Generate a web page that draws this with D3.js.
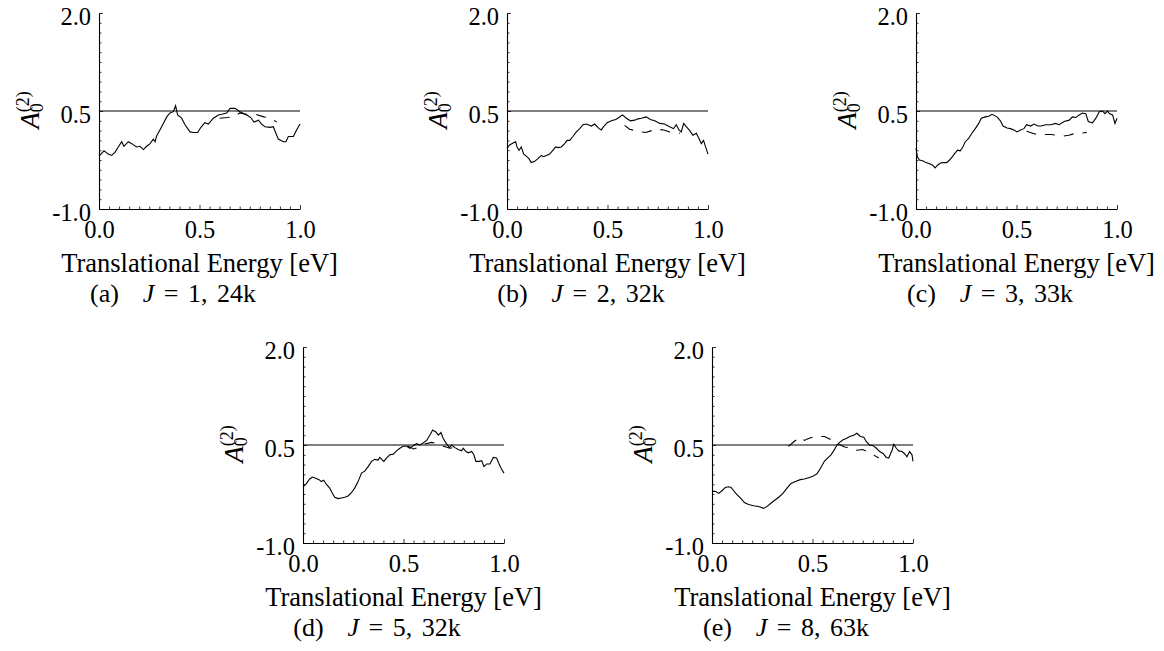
<!DOCTYPE html>
<html>
<head>
<meta charset="utf-8">
<script src="https://cdn.jsdelivr.net/npm/d3@7"></script>
<style>
  body { margin: 0; background: #fff; }
  text { font-family: "Liberation Serif", "DejaVu Serif", serif; fill: #000; }
</style>
</head>
<body>
<div id="chart"></div>
<script>
// tick labels / reference level
let xTicks = [0.0, 0.5, 1.0];
let yTicks = [-1.0, 0.5, 2.0];
let refLevel = 0.5;

// sub-captions
let captionLetters = ["a", "b", "c", "d", "e"];
let jValues = [1, 2, 3, 5, 8];
let sampleSizes = ["24k", "32k", "33k", "32k", "63k"];

// (a) J = 1
let solidA = [[0.000,-0.19],[0.025,-0.11],[0.046,-0.16],[0.063,-0.18],[0.080,-0.13],[0.096,-0.05],[0.113,0.03],[0.124,-0.04],
  [0.146,0.03],[0.163,0.00],[0.187,-0.05],[0.204,-0.04],[0.221,-0.09],[0.237,-0.04],[0.254,0.00],[0.270,0.07],[0.279,0.03],
  [0.287,0.12],[0.303,0.21],[0.320,0.31],[0.337,0.41],[0.353,0.47],[0.370,0.49],[0.381,0.58],[0.391,0.44],[0.411,0.39],
  [0.428,0.29],[0.453,0.18],[0.469,0.17],[0.491,0.17],[0.507,0.25],[0.527,0.32],[0.544,0.30],[0.569,0.39],[0.594,0.44],
  [0.610,0.45],[0.635,0.47],[0.652,0.54],[0.677,0.54],[0.701,0.49],[0.735,0.44],[0.755,0.40],[0.771,0.33],[0.793,0.36],
  [0.809,0.30],[0.826,0.26],[0.851,0.25],[0.867,0.26],[0.892,0.07],[0.917,0.03],[0.930,0.03],[0.942,0.11],[0.967,0.11],
  [0.983,0.21],[1.000,0.30]];
let dashedA = [[0.60,0.39],[0.64,0.40],[0.67,0.41],[0.70,0.47],[0.73,0.45],[0.78,0.45],[0.82,0.41],[0.85,0.39],[0.885,0.33]];

// (b) J = 2
let solidB = [[0.000,-0.07],[0.013,-0.02],[0.030,0.01],[0.043,0.03],[0.050,-0.05],[0.060,-0.10],[0.071,-0.05],[0.083,-0.16],
  [0.096,-0.19],[0.109,-0.23],[0.121,-0.29],[0.138,-0.27],[0.154,-0.23],[0.171,-0.18],[0.182,-0.20],[0.196,-0.18],
  [0.212,-0.16],[0.229,-0.10],[0.242,-0.05],[0.254,-0.06],[0.270,-0.05],[0.287,0.00],[0.299,0.05],[0.312,0.05],
  [0.328,0.11],[0.345,0.18],[0.362,0.23],[0.378,0.29],[0.395,0.30],[0.420,0.27],[0.436,0.30],[0.458,0.23],[0.469,0.21],
  [0.481,0.26],[0.498,0.32],[0.519,0.35],[0.541,0.37],[0.557,0.40],[0.574,0.44],[0.594,0.39],[0.614,0.35],[0.635,0.36],
  [0.652,0.38],[0.668,0.39],[0.693,0.41],[0.713,0.37],[0.735,0.35],[0.760,0.31],[0.784,0.30],[0.809,0.26],[0.829,0.23],
  [0.842,0.29],[0.856,0.21],[0.867,0.18],[0.879,0.31],[0.892,0.26],[0.909,0.20],[0.925,0.13],[0.942,0.16],[0.955,0.08],
  [0.967,0.00],[0.978,0.05],[0.988,-0.05],[1.000,-0.16]];
let dashedB = [[0.585,0.28],[0.61,0.22],[0.65,0.19],[0.69,0.17],[0.74,0.22],[0.78,0.21],[0.81,0.18],[0.86,0.16]];

// (c) J = 3
let solidC = [[0.000,-0.07],[0.007,-0.20],[0.017,-0.25],[0.033,-0.26],[0.050,-0.29],[0.070,-0.31],[0.083,-0.33],[0.095,-0.37],
  [0.107,-0.33],[0.120,-0.30],[0.133,-0.29],[0.153,-0.29],[0.167,-0.25],[0.183,-0.19],[0.195,-0.14],[0.207,-0.10],
  [0.220,-0.11],[0.233,-0.05],[0.245,0.03],[0.262,0.08],[0.278,0.16],[0.295,0.23],[0.312,0.31],[0.325,0.39],[0.345,0.41],
  [0.362,0.42],[0.378,0.45],[0.403,0.41],[0.420,0.35],[0.433,0.27],[0.453,0.24],[0.470,0.23],[0.487,0.21],[0.503,0.18],
  [0.520,0.21],[0.537,0.23],[0.550,0.29],[0.570,0.27],[0.587,0.30],[0.607,0.27],[0.623,0.27],[0.645,0.29],[0.670,0.29],
  [0.695,0.31],[0.712,0.29],[0.737,0.34],[0.762,0.36],[0.778,0.41],[0.795,0.40],[0.812,0.44],[0.828,0.47],[0.845,0.46],
  [0.857,0.34],[0.878,0.32],[0.895,0.39],[0.912,0.49],[0.928,0.50],[0.940,0.46],[0.953,0.50],[0.962,0.46],[0.978,0.44],
  [0.990,0.31],[1.000,0.39]];
let dashedC = [[0.55,0.19],[0.58,0.16],[0.61,0.13],[0.64,0.14],[0.67,0.14],[0.70,0.13],[0.73,0.115],[0.76,0.13],[0.79,0.155],
  [0.82,0.16],[0.85,0.17]];

// (d) J = 5
let solidD = [[0.000,-0.14],[0.017,-0.09],[0.033,-0.02],[0.047,0.01],[0.063,-0.01],[0.080,-0.03],[0.091,-0.06],[0.103,-0.04],
  [0.116,-0.10],[0.133,-0.16],[0.146,-0.24],[0.158,-0.30],[0.174,-0.32],[0.191,-0.31],[0.208,-0.30],[0.224,-0.28],
  [0.241,-0.23],[0.257,-0.16],[0.274,-0.06],[0.291,0.07],[0.307,0.10],[0.324,0.17],[0.341,0.25],[0.357,0.28],[0.374,0.27],
  [0.382,0.31],[0.402,0.25],[0.415,0.30],[0.432,0.35],[0.449,0.36],[0.465,0.41],[0.482,0.45],[0.498,0.48],[0.515,0.48],
  [0.532,0.45],[0.548,0.49],[0.565,0.52],[0.581,0.50],[0.598,0.53],[0.615,0.57],[0.631,0.65],[0.645,0.73],[0.661,0.70],
  [0.673,0.65],[0.686,0.69],[0.698,0.60],[0.709,0.54],[0.728,0.46],[0.739,0.50],[0.756,0.46],[0.772,0.43],[0.789,0.41],
  [0.797,0.45],[0.811,0.40],[0.822,0.38],[0.839,0.40],[0.850,0.35],[0.860,0.25],[0.877,0.25],[0.889,0.26],[0.900,0.17],
  [0.914,0.21],[0.930,0.21],[0.947,0.31],[0.963,0.30],[0.977,0.20],[0.988,0.13],[1.000,0.07]];
let dashedD = [[0.52,0.49],[0.55,0.44],[0.58,0.47],[0.61,0.52],[0.64,0.54],[0.67,0.52],[0.70,0.48],[0.73,0.45],[0.76,0.47]];

// (e) J = 8
let solidE = [[0.000,-0.21],[0.017,-0.21],[0.033,-0.24],[0.050,-0.20],[0.066,-0.15],[0.083,-0.14],[0.095,-0.15],[0.108,-0.20],
  [0.124,-0.26],[0.141,-0.31],[0.161,-0.38],[0.182,-0.41],[0.207,-0.43],[0.232,-0.44],[0.257,-0.47],[0.274,-0.44],
  [0.290,-0.40],[0.310,-0.35],[0.332,-0.30],[0.353,-0.24],[0.373,-0.16],[0.393,-0.09],[0.415,-0.06],[0.439,-0.03],
  [0.459,-0.02],[0.481,0.00],[0.502,0.02],[0.522,0.06],[0.539,0.14],[0.559,0.25],[0.575,0.30],[0.592,0.35],[0.605,0.41],
  [0.622,0.50],[0.635,0.54],[0.652,0.58],[0.668,0.60],[0.685,0.63],[0.705,0.65],[0.721,0.68],[0.738,0.63],[0.755,0.62],
  [0.768,0.55],[0.784,0.50],[0.801,0.49],[0.818,0.45],[0.834,0.40],[0.851,0.37],[0.867,0.31],[0.879,0.30],[0.896,0.42],
  [0.904,0.51],[0.917,0.45],[0.929,0.41],[0.945,0.40],[0.957,0.37],[0.970,0.32],[0.983,0.40],[0.995,0.35],[1.000,0.25]];
let dashedE = [[0.38,0.48],[0.40,0.53],[0.42,0.58],[0.44,0.62],[0.46,0.57],[0.48,0.60],[0.51,0.63],[0.56,0.63],[0.60,0.57],
  [0.63,0.51],[0.66,0.47],[0.70,0.45],[0.72,0.42],[0.75,0.43],[0.78,0.39],[0.83,0.30]];

// layout: plot-area origins of the five panels
let panelOrigins = [[99, 13], [507, 13], [916, 13], [303, 347], [712, 347]];
let solids = [solidA, solidB, solidC, solidD, solidE];
let dashes = [dashedA, dashedB, dashedC, dashedD, dashedE];

let width = 201,
    height = 196;

let x = d3.scaleLinear().domain([0, 1]).range([0, width]);
let y = d3.scaleLinear().domain([-1, 2]).range([height, 0]);

let xMinor = d3.range(0, 1.0001, 0.05);
let yMinor = d3.range(-1, 2.0001, 0.15);
let isMajor = (list, v) => list.some(t => Math.abs(t - v) < 1e-6);
// plain hyphen for negatives, like the original
let fmt = d => (Math.abs(d) < 1e-9 ? 0 : d).toFixed(1);

let line = d3.line()
    .x(function(d) { return x(d[0]); })
    .y(function(d) { return y(d[1]); });

let svg = d3.select("#chart").append("svg")
    .attr("width", 1164)
    .attr("height", 651);

panelOrigins.forEach(function(o, i) {
    let g = svg.append("g")
        .attr("transform", "translate(" + o[0] + "," + o[1] + ")");

    // horizontal reference line
    g.append("line")
        .attr("x1", x(0)).attr("x2", x(1))
        .attr("y1", y(refLevel)).attr("y2", y(refLevel))
        .attr("stroke", "#000")
        .attr("stroke-width", 1.1);

    // x axis, ticks pointing inward
    let xa = g.append("g")
        .attr("transform", "translate(0," + height + ")")
        .call(d3.axisBottom(x)
            .tickValues(xMinor)
            .tickSizeInner(-2.5)
            .tickSizeOuter(0)
            .tickPadding(11.5)
            .tickFormat(d => isMajor(xTicks, d) ? fmt(d) : ""));

    // y axis
    let ya = g.append("g")
        .call(d3.axisLeft(y)
            .tickValues(yMinor)
            .tickSizeInner(-2.5)
            .tickSizeOuter(0)
            .tickPadding(8)
            .tickFormat(d => isMajor(yTicks, d) ? fmt(d) : ""));

    [xa, ya].forEach(function(a) {
        a.attr("font-family", null).attr("font-size", null);
        a.select(".domain").attr("stroke", "#000").attr("stroke-width", 1.1);
        a.selectAll(".tick line").attr("stroke", "#000").attr("stroke-width", 0.8);
        a.selectAll(".tick text").style("font-size", "24.5px").attr("fill", "#000");
    });
    xa.selectAll(".tick line").filter(d => isMajor(xTicks, d)).attr("y2", -4);
    ya.selectAll(".tick line").filter(d => isMajor(yTicks, d)).attr("x2", 4);
    ya.selectAll(".tick text").attr("dy", "0.45em");

    // curves
    g.append("path")
        .datum(solids[i])
        .attr("fill", "none")
        .attr("stroke", "#000")
        .attr("stroke-width", 1.1)
        .attr("d", line);

    g.append("path")
        .datum(dashes[i])
        .attr("fill", "none")
        .attr("stroke", "#000")
        .attr("stroke-width", 1.1)
        .attr("stroke-dasharray", "10,9")
        .attr("d", line);

    // y label A_0^(2)
    let yl = g.append("text")
        .attr("transform", "translate(-60," + (height / 2 - 1) + ") rotate(-90)")
        .attr("text-anchor", "middle");
    yl.append("tspan").style("font-style", "italic").style("font-size", "27px").text("A");
    yl.append("tspan").style("font-size", "18px").attr("dy", 4).text("0");
    yl.append("tspan").style("font-size", "18px").attr("dx", -9).attr("dy", -14).text("(2)");

    // x label
    g.append("text")
        .attr("x", width / 2)
        .attr("y", height + 63)
        .attr("text-anchor", "middle")
        .style("font-size", "26.5px")
        .text("Translational Energy [eV]");

    // sub-caption
    let cap = g.append("text")
        .attr("x", 74)
        .attr("y", height + 93)
        .attr("text-anchor", "middle")
        .style("font-size", "26px")
        .style("white-space", "pre")
        .style("word-spacing", "3px");
    cap.append("tspan").text("(" + captionLetters[i] + ")");
    cap.append("tspan").attr("dx", 24).style("font-style", "italic").text("J");
    cap.append("tspan").text(" = " + jValues[i] + ", " + sampleSizes[i]);
});
</script>
</body>
</html>
